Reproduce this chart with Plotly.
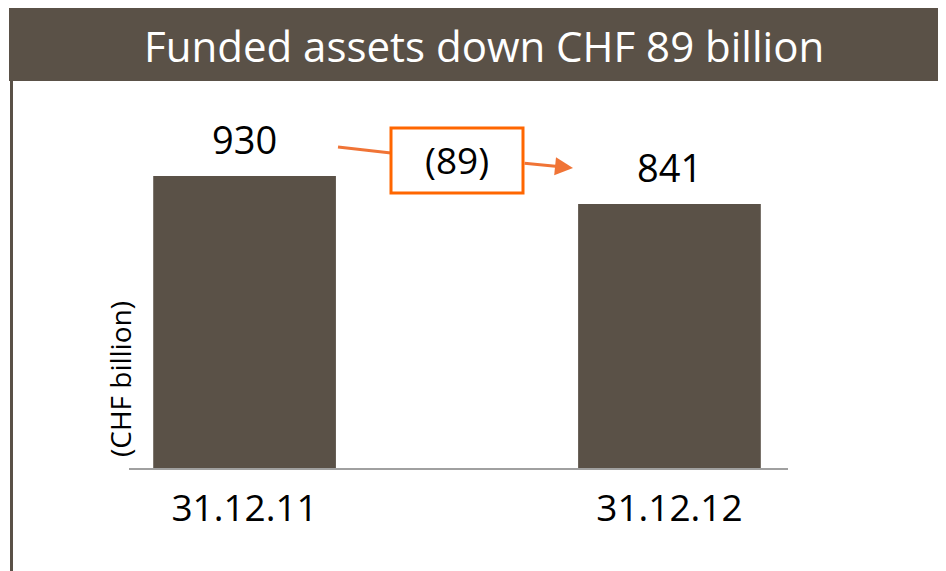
import plotly.graph_objects as go

categories = ["31.12.11", "31.12.12"]
values = [930, 841]
change_label = "(89)"
title_text = "Funded assets down CHF 89 billion"
y_title = "(CHF billion)"

W, H = 946, 571
OFF = 8  # page body margin offset
BROWN = "#5a5147"
ORANGE = "#ff6600"
ARROW = "#f07436"
FONT = "Open Sans"

def px(x):
    return (x - OFF) / W

def py(y):
    return 1 - (y - OFF) / H

xs = list(range(len(categories)))

fig = go.Figure()
fig.add_trace(go.Bar(
    x=xs, y=values, width=0.43,
    marker=dict(color=BROWN, line=dict(width=0)),
    hoverinfo="skip",
))

annotations = []
for x, v in zip(xs, values):
    annotations.append(dict(
        x=x, y=v, xref="x", yref="y", text=str(v), showarrow=False,
        yshift=37, yanchor="middle",
        font=dict(family=FONT, size=38, color="#000000"),
    ))

annotations.append(dict(
    x=px(484), y=py(45), xref="paper", yref="paper", text=title_text,
    showarrow=False, xanchor="center", yanchor="middle",
    font=dict(family=FONT, size=42, color="#ffffff"),
))
annotations.append(dict(
    x=px(120), y=py(379), xref="paper", yref="paper", text=y_title,
    showarrow=False, textangle=-90, xanchor="center", yanchor="middle",
    font=dict(family=FONT, size=28, color="#000000"),
))
annotations.append(dict(
    x=px(457), y=py(160), xref="paper", yref="paper", text=change_label,
    showarrow=False, xanchor="center", yanchor="middle",
    font=dict(family=FONT, size=37, color="#000000"),
))
annotations.append(dict(
    x=px(573), y=py(168), xref="paper", yref="paper", text="",
    showarrow=True, ax=-50, ay=-5, axref="pixel", ayref="pixel",
    arrowhead=2, arrowsize=1.2, arrowwidth=3, arrowcolor=ARROW,
))

shapes = [
    dict(type="rect", xref="paper", yref="paper", x0=px(9), x1=1.0,
         y0=py(81), y1=1.0, fillcolor=BROWN, line=dict(width=0), layer="below"),
    dict(type="line", xref="paper", yref="paper", x0=px(11.5), x1=px(11.5),
         y0=py(81), y1=0, line=dict(color=BROWN, width=3)),
    dict(type="line", xref="paper", yref="paper", x0=px(338), x1=px(391),
         y0=py(147), y1=py(153), line=dict(color=ARROW, width=3)),
    dict(type="rect", xref="paper", yref="paper", x0=px(391), x1=px(523),
         y0=py(193), y1=py(128), line=dict(color=ORANGE, width=3),
         fillcolor="rgba(0,0,0,0)"),
]

fig.update_layout(
    width=W, height=H,
    margin=dict(l=0, r=0, t=0, b=0),
    paper_bgcolor="#ffffff", plot_bgcolor="#ffffff",
    showlegend=False,
    annotations=annotations, shapes=shapes,
    xaxis=dict(
        domain=[px(129), px(788)], range=[-0.272, 1.279],
        tickvals=xs, ticktext=categories, ticks="", showgrid=False,
        zeroline=False, showline=True, linecolor="#a0a0a0", linewidth=2,
        tickfont=dict(family=FONT, size=37, color="#000000"),
        ticklabelstandoff=7,
    ),
    yaxis=dict(
        domain=[py(468), py(100)], range=[0, 368 / 0.314],
        showticklabels=False, ticks="", showgrid=False, zeroline=False,
        showline=False,
    ),
)

fig.write_html("out.html")
